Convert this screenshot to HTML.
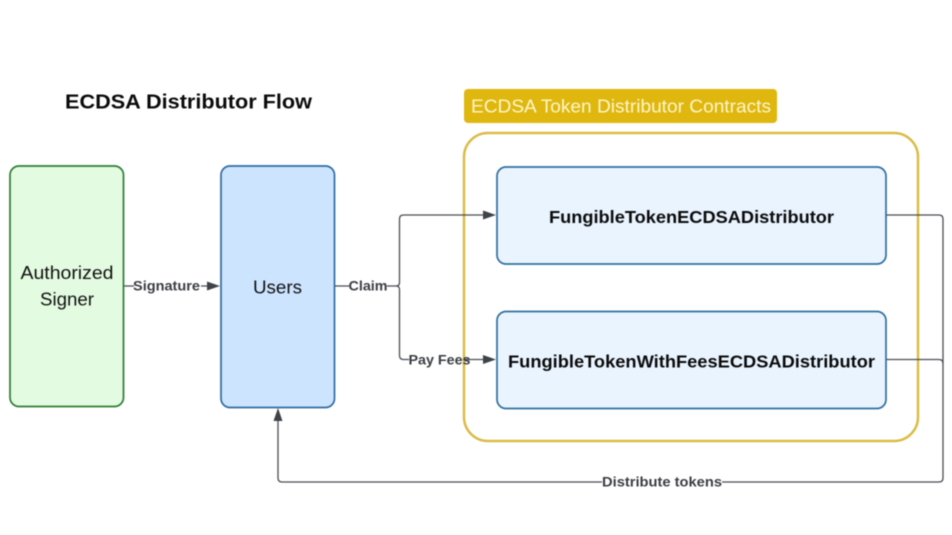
<!DOCTYPE html>
<html><head><meta charset="utf-8">
<style>
html,body{margin:0;padding:0;background:#fff;width:952px;height:535px;overflow:hidden}
svg{display:block;filter:blur(0.4px)}
text{font-family:"Liberation Sans",sans-serif}
.e{font-size:13.500px;font-weight:bold;fill:#3a3d42;text-anchor:middle}
</style></head><body>
<svg width="952" height="535" viewBox="0 0 952 535" xmlns="http://www.w3.org/2000/svg">
<rect width="952" height="535" fill="#fff"/>
<text x="188.500" y="108.500" font-size="20.500" font-weight="bold" fill="#0b0b0b" text-anchor="middle" textLength="247" lengthAdjust="spacingAndGlyphs">ECDSA Distributor Flow</text>
<rect x="464" y="89" width="313" height="34" rx="4" fill="#e0b70f"/>
<text x="621" y="112.500" font-size="18.500" fill="#fdf6c8" text-anchor="middle" textLength="300" lengthAdjust="spacingAndGlyphs">ECDSA Token Distributor Contracts</text>
<rect x="464" y="133" width="454" height="308" rx="24" fill="#fff" stroke="#dcbb45" stroke-width="2.500"/>
<rect x="10" y="166" width="113.500" height="240.500" rx="9" fill="#e3fbe1" stroke="#2f7d33" stroke-width="1.700"/>
<rect x="221" y="166" width="113.500" height="241.500" rx="9" fill="#cde4ff" stroke="#2f6ba3" stroke-width="1.700"/>
<rect x="497" y="167" width="389" height="97" rx="9" fill="#e9f4ff" stroke="#2f6f9f" stroke-width="1.700"/>
<rect x="497" y="311.500" width="389" height="97" rx="9" fill="#e9f4ff" stroke="#2f6f9f" stroke-width="1.700"/>
<g fill="none" stroke="#4a4d52" stroke-width="1.300">
<path d="M124 286H207"/>
<path d="M335 286H396Q399.500 286 399.500 282.500V219Q399.500 215 403.500 215H484"/>
<path d="M396 286Q399.500 286 399.500 289.500V355.500Q399.500 359.500 403.500 359.500H409"/>
<path d="M464 359.500H484"/>
<path d="M886.500 215H939Q943 215 943 219V478Q943 482 939 482H282Q278 482 278 478V420"/>
<path d="M886.500 359.500H939Q943 359.500 943 363.500"/>
</g>
<g fill="#3f4349">
<path d="M220 286L207 281.500V290.500Z"/>
<path d="M496 215L483 210.500V219.500Z"/>
<path d="M496 359.500L483 355V364Z"/>
<path d="M278 408L273.500 421H282.500Z"/>
</g>
<rect x="134" y="278" width="67" height="16" fill="#fff"/>
<rect x="349" y="278" width="38" height="16" fill="#fff"/>
<rect x="602" y="474" width="120" height="16" fill="#fff"/>
<text class="e" x="166.500" y="290.500" textLength="67" lengthAdjust="spacingAndGlyphs">Signature</text>
<text class="e" x="368" y="290.500" textLength="39" lengthAdjust="spacingAndGlyphs">Claim</text>
<text class="e" x="439.500" y="364.500" textLength="62" lengthAdjust="spacingAndGlyphs">Pay Fees</text>
<text class="e" x="662" y="486.500" textLength="120" lengthAdjust="spacingAndGlyphs">Distribute tokens</text>
<text x="67" y="279" font-size="18" fill="#111" text-anchor="middle" textLength="93" lengthAdjust="spacingAndGlyphs">Authorized</text>
<text x="67" y="305.500" font-size="18" fill="#111" text-anchor="middle" textLength="54" lengthAdjust="spacingAndGlyphs">Signer</text>
<text x="277.500" y="293.500" font-size="18" fill="#111" text-anchor="middle" textLength="49" lengthAdjust="spacingAndGlyphs">Users</text>
<text x="691.500" y="223" font-size="17.500" font-weight="bold" fill="#0b0b0b" text-anchor="middle" textLength="285" lengthAdjust="spacingAndGlyphs">FungibleTokenECDSADistributor</text>
<text x="691.500" y="367.500" font-size="17.500" font-weight="bold" fill="#0b0b0b" text-anchor="middle" textLength="367" lengthAdjust="spacingAndGlyphs">FungibleTokenWithFeesECDSADistributor</text>
</svg>
</body></html>
